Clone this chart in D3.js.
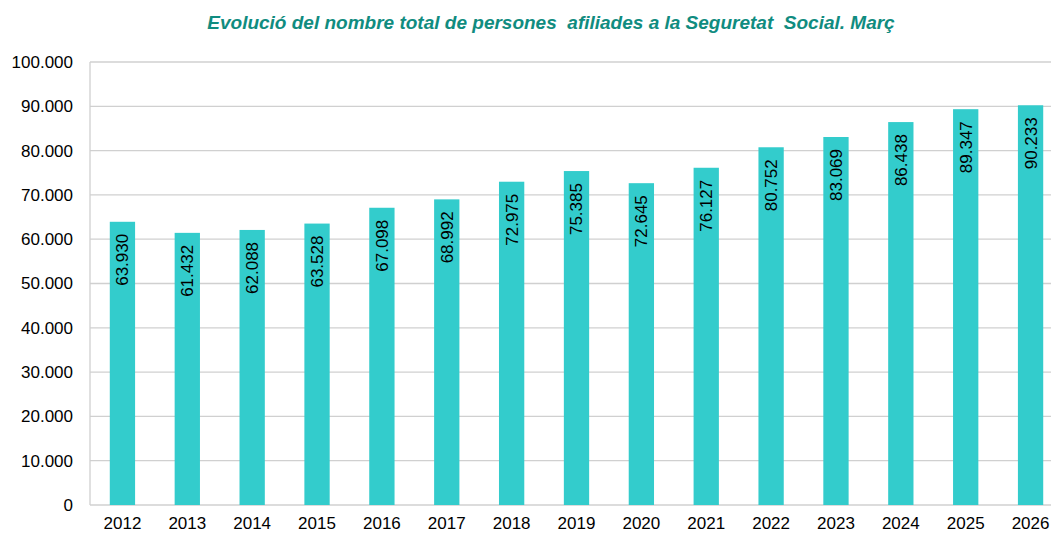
<html>
<head>
<title>Afiliats Seguretat Social</title>
<script src="https://cdn.jsdelivr.net/npm/d3@7"></script>
<style>
    body { margin: 0; background: #fff; }
    text { font-family: "Liberation Sans", Arial, sans-serif; }
</style>
</head>
<body>
<div id="vis_container"></div>
<script>

    // data
    var years = ["2012","2013","2014","2015","2016","2017","2018","2019","2020","2021","2022","2023","2024","2025","2026"];
    var values = [63930, 61432, 62088, 63528, 67098, 68992, 72975, 75385, 72645, 76127, 80752, 83069, 86438, 89347, 90233];
    var yTicks = [0, 10000, 20000, 30000, 40000, 50000, 60000, 70000, 80000, 90000, 100000];
    var title = "Evolució del nombre total de persones  afiliades a la Seguretat  Social. Març";

    var width = 1051;
    var height = 533;

    var svg = d3.select("#vis_container")
        .append("svg")
        .attr("width", width)
        .attr("height", height);

    var fmt = function(v) { return d3.format(",")(v).replace(/,/g, "."); };

    var x = d3.scaleBand()
        .domain(years)
        .range([90, 1063])
        .paddingInner(0.61)
        .paddingOuter(0.305);

    var y = d3.scaleLinear()
        .domain([0, 100000])
        .range([505, 62]);

    // title
    svg.append("text")
        .attr("x", 551)
        .attr("y", 29)
        .attr("text-anchor", "middle")
        .style("font-size", "19px")
        .style("font-weight", "bold")
        .style("font-style", "italic")
        .style("fill", "#108c80")
        .style("white-space", "pre")
        .text(title);

    // gridlines
    svg.append("g").selectAll("line")
        .data(yTicks)
        .enter().append("line")
        .attr("x1", 90)
        .attr("x2", width)
        .attr("y1", function(d) { return y(d); })
        .attr("y2", function(d) { return y(d); })
        .style("stroke", "#d0d0d0")
        .style("stroke-width", 1.3);

    // vertical axis line
    svg.append("line")
        .attr("x1", 90).attr("x2", 90)
        .attr("y1", y(100000)).attr("y2", y(0))
        .style("stroke", "#d0d0d0")
        .style("stroke-width", 1.3);

    // y labels
    svg.append("g").selectAll("text")
        .data(yTicks)
        .enter().append("text")
        .attr("x", 73)
        .attr("y", function(d) { return y(d); })
        .attr("dy", "0.35em")
        .attr("text-anchor", "end")
        .style("font-size", "17px")
        .style("fill", "#000")
        .text(function(d) { return fmt(d); });

    // x labels
    svg.append("g").selectAll("text")
        .data(years)
        .enter().append("text")
        .attr("x", function(d) { return x(d) + x.bandwidth() / 2; })
        .attr("y", 529)
        .attr("text-anchor", "middle")
        .style("font-size", "17px")
        .style("fill", "#000")
        .text(function(d) { return d; });

    // bars
    svg.append("g").selectAll("rect")
        .data(values)
        .enter().append("rect")
        .attr("x", function(d, i) { return x(years[i]); })
        .attr("y", function(d) { return y(d); })
        .attr("width", x.bandwidth())
        .attr("height", function(d) { return y(0) - y(d); })
        .style("fill", "#33cccc");

    // value labels inside bars, rotated
    svg.append("g").selectAll("text")
        .data(values)
        .enter().append("text")
        .attr("transform", function(d, i) {
            var cx = x(years[i]) + x.bandwidth() / 2;
            return "translate(" + cx + "," + (y(d) + 12) + ") rotate(-90)";
        })
        .attr("dy", "0.35em")
        .attr("text-anchor", "end")
        .style("font-size", "17px")
        .style("fill", "#000")
        .text(function(d) { return fmt(d); });

</script>
</body>
</html>
